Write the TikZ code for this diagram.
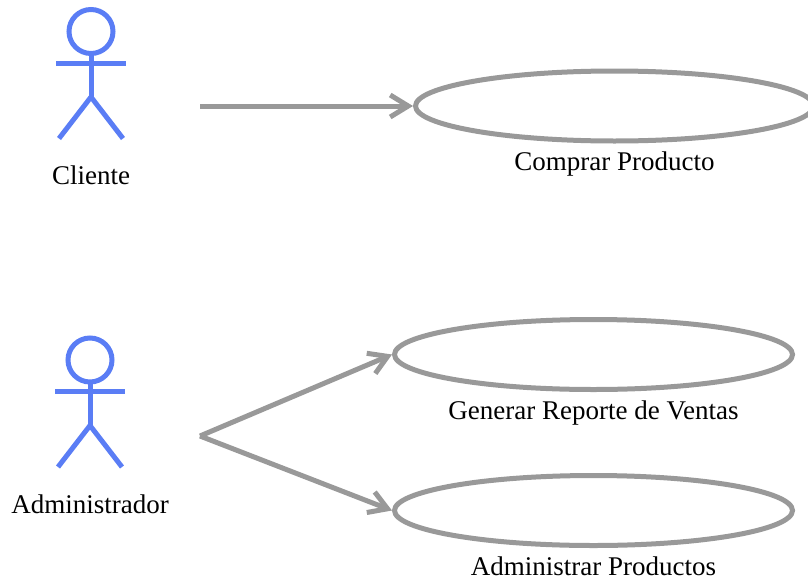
\documentclass[tikz,border=0pt]{standalone}
\usepackage{fontspec}
\setmainfont{Liberation Serif}
\usetikzlibrary{shapes.geometric,arrows.meta,positioning}
\definecolor{actorblue}{RGB}{90,125,245}
\definecolor{linkgray}{RGB}{153,153,153}

\tikzset{
  actorline/.style={draw=actorblue, line width=5pt},
  usecase/.style={draw=linkgray, line width=5pt, ellipse, minimum width=398pt, minimum height=70pt, inner sep=0pt},
  uclabel/.style={font=\fontsize{27}{32}\selectfont, inner sep=0pt},
  uclink/.style={draw=linkgray, line width=5pt, -{Straight Barb[length=18pt,width=22pt]}},
  actor/.pic={
    \draw[actorline] (0,0) circle[radius=22pt];
    \draw[actorline] (-35,31.5) -- (35,31.5);
    \draw[actorline] (0,22) -- (0,65.5);
    \draw[actorline] (-32,107) -- (0,65.5) -- (32,107);
  }
}

\begin{document}
\begin{tikzpicture}[x=1pt, y=-1pt]
\useasboundingbox (0,0) rectangle (808,581);
\clip (0,0) rectangle (808,581);

% actors
\pic at (91,31.5) {actor};
\node[uclabel, anchor=base] (cliente) at (91,184) {Cliente};
\pic at (90,360) {actor};
\node[uclabel, anchor=base] (admin) at (90,513) {Administrador};

% use cases
\node[usecase] (comprar) at (614.5,106) {};
\node[uclabel, below=8.5pt of comprar] (comprar-txt) {Comprar Producto};
\node[usecase] (reporte) at (593.5,354.5) {};
\node[uclabel, below=8.5pt of reporte] (reporte-txt) {Generar Reporte de Ventas};
\node[usecase] (productos) at (593.5,510.5) {};
\node[uclabel, below=8.5pt of productos] (productos-txt) {Administrar Productos};

% associations
\coordinate (cliente-out) at (200,106);
\coordinate (admin-out) at (200,436);
\draw[uclink] (cliente-out) -- (comprar.west);
\draw[uclink] (admin-out) -- (reporte.west);
\draw[uclink] (admin-out) -- (productos.west);
\end{tikzpicture}
\end{document}
